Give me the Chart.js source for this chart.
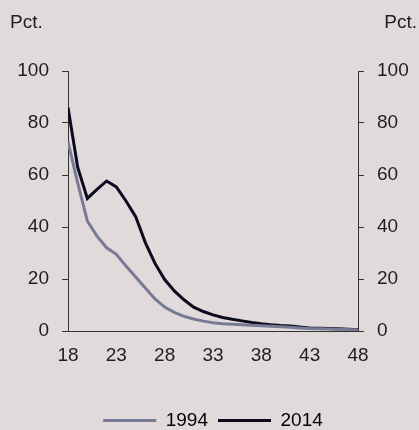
<!DOCTYPE html>
<html>
<head>
<meta charset="utf-8">
<script src="https://cdn.jsdelivr.net/npm/chart.js@4"></script>
<style>
  html, body { margin: 0; padding: 0; background: #e0dbda; }
  #wrap { width: 419px; height: 430px; }
</style>
</head>
<body>
<div id="wrap"><canvas id="chart" width="419" height="430"></canvas></div>
<script>
// Age, share in pct.
const ages = [18,19,20,21,22,23,24,25,26,27,28,29,30,31,32,33,34,35,36,37,38,39,40,41,42,43,44,45,46,47,48];
const pct1994 = [72.8,57,42.3,36.5,32,29.5,25,20.8,16.5,12.3,9.2,7.2,5.6,4.6,3.8,3.2,2.8,2.6,2.4,2.2,2.0,1.8,1.6,1.4,1.2,1.0,0.9,0.8,0.7,0.6,0.4];
const pct2014 = [86,63,51,54.5,57.7,55.4,50,44,34,26,19.8,15.4,12,9.2,7.5,6.2,5.2,4.5,3.9,3.3,2.8,2.4,2.1,1.9,1.5,1.2,1.1,1.0,0.9,0.7,0.5];
const xTicks = [18,23,28,33,38,43,48];
const yTicks = [0,20,40,60,80,100];
const unit = 'Pct.';

const axisColor = '#333333';
const textColor = '#1e1e1e';
const font = { family: "'Liberation Sans', Arial, sans-serif", size: 19 };

// "Pct." above both y axes
const unitLabels = {
  id: 'unitLabels',
  afterDraw(chart) {
    const ctx = chart.ctx;
    ctx.save();
    ctx.font = `${font.size}px ${font.family}`;
    ctx.fillStyle = textColor;
    ctx.textBaseline = 'middle';
    ctx.textAlign = 'left';
    ctx.fillText(unit, 10, 23);
    ctx.textAlign = 'right';
    ctx.fillText(unit, 417, 23);
    ctx.restore();
  }
};

const yAxis = (position) => ({
  type: 'linear',
  position: position,
  min: 0,
  max: 100,
  afterBuildTicks: axis => { axis.ticks = yTicks.map(v => ({ value: v })); },
  afterFit: axis => { axis.width = 51; },
  grid: { display: true, drawOnChartArea: false, drawTicks: true, tickLength: 6, color: axisColor, lineWidth: 1 },
  border: { display: true, color: axisColor, width: 1 },
  ticks: { color: textColor, font: font, padding: 13 }
});

new Chart(document.getElementById('chart'), {
  type: 'line',
  data: {
    datasets: [
      {
        label: '1994',
        data: ages.map((a, i) => ({ x: a, y: pct1994[i] })),
        borderColor: '#787a95',
        backgroundColor: '#787a95',
        borderWidth: 3,
        pointRadius: 0,
        tension: 0
      },
      {
        label: '2014',
        data: ages.map((a, i) => ({ x: a, y: pct2014[i] })),
        borderColor: '#0b0a1e',
        backgroundColor: '#0b0a1e',
        borderWidth: 3,
        pointRadius: 0,
        tension: 0
      }
    ]
  },
  options: {
    responsive: false,
    animation: false,
    layout: { padding: { left: 17, right: 10, top: 71, bottom: -10 } },
    plugins: {
      tooltip: { enabled: false },
      legend: {
        position: 'bottom',
        labels: {
          color: textColor,
          font: font,
          boxWidth: 53,
          boxHeight: 3,
          padding: 10,
          generateLabels: chart => chart.data.datasets.map((ds, i) => ({
            text: ds.label,
            fillStyle: ds.borderColor,
            strokeStyle: ds.borderColor,
            lineWidth: 0,
            datasetIndex: i
          }))
        }
      }
    },
    scales: {
      x: {
        type: 'linear',
        min: 18,
        max: 48,
        afterBuildTicks: axis => { axis.ticks = xTicks.map(v => ({ value: v })); },
        afterFit: axis => { axis.height = 70; },
        grid: { display: false },
        border: { display: true, color: axisColor, width: 1 },
        ticks: { color: textColor, font: font, padding: 5 }
      },
      y: yAxis('left'),
      y2: yAxis('right')
    }
  },
  plugins: [unitLabels]
});
</script>
</body>
</html>
